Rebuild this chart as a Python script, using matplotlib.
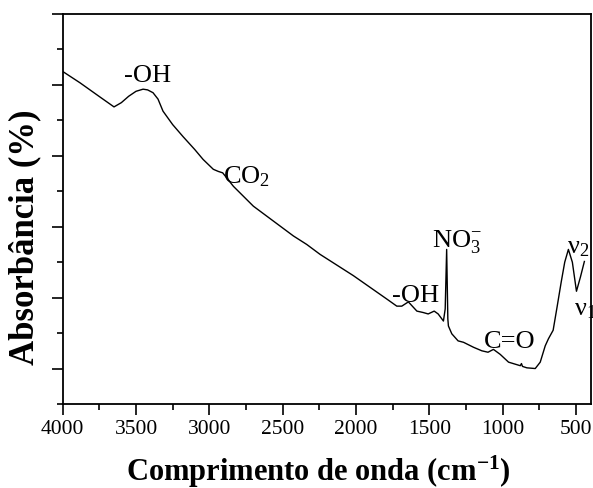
import matplotlib
matplotlib.use("Agg")
import matplotlib.pyplot as plt
from matplotlib.ticker import MultipleLocator, NullFormatter

plt.rcParams['font.family'] = ['Liberation Serif', 'DejaVu Serif']
plt.rcParams['mathtext.fontset'] = 'custom'
plt.rcParams['mathtext.rm'] = 'Liberation Serif'
plt.rcParams['mathtext.it'] = 'Liberation Serif:italic'
plt.rcParams['mathtext.bf'] = 'Liberation Serif:bold'

# FTIR spectrum, wavenumber (cm-1) vs absorbance
wavenumber = [4000, 3882, 3746, 3650, 3600, 3550, 3500, 3452, 3421, 3384,
              3350, 3316, 3250, 3179, 3100, 3043, 2973, 2939, 2909, 2886,
              2836, 2700, 2427, 2336, 2245, 2018, 1790, 1722, 1688, 1643,
              1585, 1542, 1508, 1467, 1440, 1404, 1392, 1382, 1374, 1370,
              1347, 1304, 1267, 1199, 1142, 1100, 1063, 1017, 960, 880,
              872, 865, 835, 778, 744, 710, 688, 656, 629, 601,
              577, 552, 525, 497, 470, 443]
absorbance = [1.019, 1.003, 0.983, 0.969, 0.975, 0.984, 0.991, 0.994, 0.993, 0.989,
              0.980, 0.963, 0.944, 0.927, 0.909, 0.895, 0.881, 0.878, 0.876, 0.870,
              0.857, 0.829, 0.787, 0.775, 0.761, 0.731, 0.698, 0.688, 0.688, 0.694,
              0.681, 0.679, 0.677, 0.681, 0.677, 0.667, 0.684, 0.768, 0.670, 0.660,
              0.649, 0.639, 0.637, 0.630, 0.625, 0.623, 0.627, 0.620, 0.609, 0.604,
              0.607, 0.603, 0.601, 0.600, 0.609, 0.632, 0.642, 0.654, 0.687, 0.722,
              0.750, 0.768, 0.750, 0.709, 0.729, 0.751]

# band labels: text, wavenumber, absorbance (baseline, left aligned)
band_labels = ['-OH', 'CO$_2$', '-OH', 'NO$_3^{-}$', 'C=O', 'ν$_2$', 'ν$_1$']
band_x = [3580, 2909, 1756, 1483, 1131, 562, 517]
band_y = [1.006, 0.863, 0.695, 0.773, 0.630, 0.764, 0.677]

fig = plt.figure(figsize=(5.93, 4.89), dpi=100)
ax = fig.add_axes([0.1057, 0.1718, 0.8904, 0.7975])

ax.plot(wavenumber, absorbance, color='black', lw=1.0)

for txt, x, y in zip(band_labels, band_x, band_y):
    ax.text(x, y, txt, fontsize=19, ha='left', va='baseline', clip_on=False)

ax.set_xlim(4000, 400)
ax.set_ylim(0.55, 1.10)
ax.xaxis.set_major_locator(MultipleLocator(500))
ax.xaxis.set_minor_locator(MultipleLocator(250))
ax.yaxis.set_major_locator(MultipleLocator(0.1))
ax.yaxis.set_minor_locator(MultipleLocator(0.05))
ax.yaxis.set_major_formatter(NullFormatter())

ax.tick_params(which='both', direction='out', top=False, right=False, width=1.2)
ax.tick_params(which='major', length=8, labelsize=15.5, pad=3)
ax.tick_params(which='minor', length=4.5)
for sp in ax.spines.values():
    sp.set_linewidth(1.3)

ax.set_xlabel('Comprimento de onda (cm$^{\\mathbf{-1}}$)', fontsize=22,
              fontweight='bold')
ax.set_ylabel('Absorbância (%)', fontsize=25, fontweight='bold')
ax.xaxis.set_label_coords(0.4835, -0.125)
ax.yaxis.set_label_coords(-0.04, 0.43)

fig.savefig('out.png', dpi=100)
